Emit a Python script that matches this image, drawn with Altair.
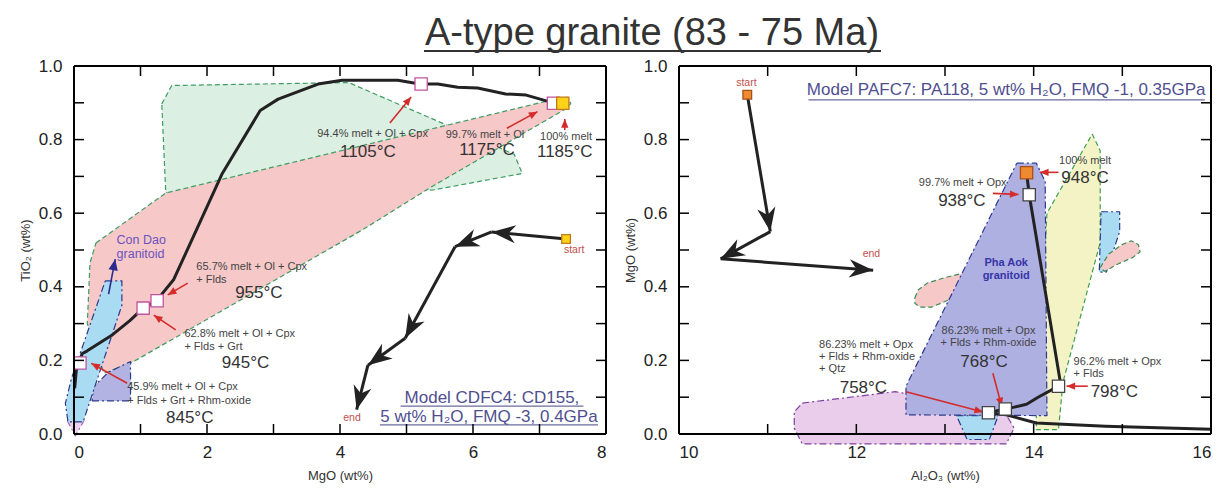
import math
import altair as alt
import pandas as pd

FONT = "Liberation Sans"

# ---------------- title ----------------
title_text = ["A-type granite (83 - 75 Ma)"]

# ---------------- LEFT PANEL: MgO (x) vs TiO2 (y) ----------------
lld_mgo = [0.01, 0.035, 0.09, 0.12, 0.20, 0.58, 0.84, 1.04, 1.25, 1.33, 1.50, 2.23, 2.80, 3.07,
           3.67, 4.03, 4.87, 5.20, 5.47, 5.77, 6.07, 6.49, 6.80, 7.22, 7.35]
lld_tio2 = [0.124, 0.174, 0.193, 0.218, 0.226, 0.270, 0.308, 0.342, 0.362, 0.382, 0.420, 0.708, 0.879, 0.910,
            0.951, 0.961, 0.961, 0.951, 0.951, 0.942, 0.940, 0.924, 0.921, 0.899, 0.899]

sqL_mgo = [0.09, 1.04, 1.25, 5.22, 7.21]
sqL_tio2 = [0.193, 0.342, 0.362, 0.951, 0.899]
meltL_mgo = [7.35]
meltL_tio2 = [0.899]
startL_mgo = [7.40]
startL_tio2 = [0.530]

arL_x0 = [7.40, 6.28, 5.73, 4.98, 4.42]
arL_y0 = [0.530, 0.549, 0.509, 0.260, 0.187]
arL_x1 = [6.28, 5.73, 4.98, 4.42, 4.25]
arL_y1 = [0.549, 0.509, 0.260, 0.187, 0.066]

rL_x0 = [4.75, 6.51, 7.38, 1.71, 1.53, 0.80]
rL_y0 = [0.845, 0.831, 0.826, 0.410, 0.283, 0.138]
rL_x1 = [5.07, 6.97, 7.38, 1.41, 1.20, 0.26]
rL_y1 = [0.916, 0.876, 0.856, 0.378, 0.323, 0.192]

cd_x0 = [0.52]
cd_y0 = [0.38]
cd_x1 = [0.62]
cd_y1 = [0.475]

green_mgo = [1.32, 1.47, 4.13, 6.62, 6.74, 5.40, 1.38]
green_tio2 = [0.897, 0.947, 0.955, 0.760, 0.708, 0.663, 0.655]
pink_mgo = [0.33, 1.38, 7.28, 7.42, 7.47, 7.40, 5.38, 4.33, 0.85, 0.45, 0.20, 0.24]
pink_tio2 = [0.519, 0.655, 0.912, 0.915, 0.898, 0.884, 0.672, 0.554, 0.192, 0.165, 0.300, 0.465]
bluel_mgo = [0.47, 0.72, 0.72, 0.137, -0.09, -0.13, -0.04]
bluel_tio2 = [0.416, 0.416, 0.350, 0.033, 0.033, 0.083, 0.150]
viol_mgo = [0.27, 0.85, 0.85, 0.52, 0.30]
viol_tio2 = [0.090, 0.090, 0.197, 0.168, 0.130]
mauvel_mgo = [-0.10, 0.15, 0.02]
mauvel_tio2 = [0.036, 0.036, -0.005]

L_small_c_text = ["94.4% melt + Ol + Cpx", "99.7% melt + Ol", "100% melt"]
L_small_c_x = [4.49, 6.18, 7.40]
L_small_c_y = [0.815, 0.812, 0.808]
L_small_l_text = ["65.7% melt + Ol + Cpx", "+ Flds", "62.8% melt + Ol + Cpx", "+ Flds + Grt",
                  "45.9% melt + Ol + Cpx", "+ Flds + Grt + Rhm-oxide"]
L_small_l_x = [1.84, 1.84, 1.66, 1.66, 0.80, 0.80]
L_small_l_y = [0.453, 0.418, 0.271, 0.237, 0.127, 0.090]
L_temp_text = ["1105°C", "1175°C", "1185°C", "955°C", "945°C", "845°C"]
L_temp_x = [4.42, 6.21, 7.38, 2.78, 2.58, 1.74]
L_temp_y = [0.767, 0.772, 0.767, 0.382, 0.192, 0.043]
L_cd_text = ["Con Dao", "granitoid"]
L_cd_x = [0.64, 0.64]
L_cd_y = [0.527, 0.489]
L_se_text = ["start", "end"]
L_se_x = [7.52, 4.18]
L_se_y = [0.500, 0.043]
L_model_text = ["Model CDFC4: CD155,", "5 wt% H₂O, FMQ -3, 0.4GPa"]
L_model_x = [6.285, 6.24]
L_model_y = [0.084, 0.033]
L_ul_x0 = [4.91, 4.60]
L_ul_x1 = [7.66, 7.88]
L_ul_y = [0.076, 0.025]

# ---------------- RIGHT PANEL: Al2O3 (x) vs MgO (y) ----------------
rl_al = [13.92, 13.95, 14.30, 14.28, 14.05, 13.92, 13.78, 13.68, 13.49, 13.69, 14.03, 14.81, 16.0]
rl_mgo = [0.710, 0.650, 0.142, 0.130, 0.100, 0.081, 0.073, 0.068, 0.058, 0.052, 0.030, 0.021, 0.013]

sqR_al = [13.95, 14.28, 13.68, 13.49]
sqR_mgo = [0.650, 0.130, 0.068, 0.058]
meltR_al = [13.92]
meltR_mgo = [0.710]
startR_al = [10.77]
startR_mgo = [0.922]

arR_x0 = [10.77, 11.03, 10.47]
arR_y0 = [0.922, 0.550, 0.476]
arR_x1 = [11.03, 10.47, 12.19]
arR_y1 = [0.550, 0.476, 0.445]

rR_x0 = [14.28, 13.54, 13.54, 12.56, 14.61]
rR_y0 = [0.711, 0.654, 0.165, 0.115, 0.130]
rR_x1 = [14.07, 13.83, 13.64, 13.43, 14.37]
rR_y1 = [0.711, 0.651, 0.075, 0.060, 0.130]

violr_al = [13.81, 14.03, 14.13, 14.15, 12.56, 12.56]
violr_mgo = [0.736, 0.736, 0.686, 0.050, 0.052, 0.130]
yell_al = [14.66, 14.75, 14.75, 14.33, 14.28, 14.03, 14.03, 14.15]
yell_mgo = [0.815, 0.770, 0.520, 0.140, 0.012, 0.012, 0.060, 0.600]
bluer1_al = [14.76, 14.97, 14.97, 14.82, 14.74]
bluer1_mgo = [0.604, 0.604, 0.550, 0.440, 0.440]
bluer2_al = [13.13, 13.60, 13.50, 13.25]
bluer2_mgo = [0.050, 0.050, -0.015, -0.015]
mauver_al = [11.39, 12.44, 12.80, 13.60, 13.69, 13.78, 13.69, 11.39, 11.30, 11.30]
mauver_mgo = [0.084, 0.115, 0.100, 0.060, 0.052, 0.016, -0.027, -0.027, 0.016, 0.060]
blob1_al = [12.66, 12.70, 12.80, 13.00, 13.25, 13.30, 13.10, 12.85, 12.72, 12.66]
blob1_mgo = [0.370, 0.392, 0.410, 0.425, 0.440, 0.400, 0.370, 0.345, 0.345, 0.355]
blob2_al = [14.75, 14.85, 15.00, 15.10, 15.18, 15.20, 15.12, 14.95, 14.80]
blob2_mgo = [0.452, 0.490, 0.515, 0.525, 0.515, 0.495, 0.480, 0.462, 0.442]

R_small_c_text = ["100% melt", "99.7% melt + Opx", "86.23% melt + Opx", "+ Flds + Rhm-oxide"]
R_small_c_x = [14.58, 13.20, 13.49, 13.49]
R_small_c_y = [0.743, 0.682, 0.280, 0.248]
R_small_l_text = ["86.23% melt + Opx", "+ Flds + Rhm-oxide", "+ Qtz", "96.2% melt + Opx", "+ Flds"]
R_small_l_x = [11.58, 11.58, 11.58, 14.45, 14.45]
R_small_l_y = [0.243, 0.210, 0.177, 0.196, 0.164]
R_temp_text = ["948°C", "938°C", "768°C", "758°C", "798°C"]
R_temp_x = [14.58, 13.19, 13.44, 12.08, 14.91]
R_temp_y = [0.697, 0.632, 0.196, 0.125, 0.115]
R_pa_text = ["Pha Aok", "granitoid"]
R_pa_x = [13.69, 13.69]
R_pa_y = [0.464, 0.429]
R_se_text = ["start", "end"]
R_se_x = [10.76, 12.17]
R_se_y = [0.953, 0.490]
R_model_text = ["Model PAFC7: PA118, 5 wt% H₂O, FMQ -1, 0.35GPa"]
R_model_x = [13.69]
R_model_y = [0.922]
R_ul_x0 = [11.46]
R_ul_x1 = [15.93]
R_ul_y = [0.908]

# ---------------- helpers ----------------
W, H = 532, 368
TICK = 10
DART = "M0,0L0.38,1L0,0.7L-0.38,1Z"
TRI = "M0,0L0.42,1L-0.42,1Z"
BLACK = "#222222"
RED = "#d42b2b"
DASH = [5, 3]
DASHDOT = [7, 3, 2, 3]


def axis(values, title, fmt, lp, tp):
    return alt.Axis(values=values, title=title, format=fmt, ticks=False, domain=False, grid=False,
                    labelFont=FONT, labelFontSize=17, labelColor="#222", labelPadding=lp,
                    titleFont=FONT, titleFontSize=13, titleFontWeight="normal", titleColor="#333",
                    titlePadding=tp)


class Panel:
    def __init__(self, xdom, xlabels, xtitle, ytitle):
        self.sx = alt.Scale(domain=xdom, nice=False, zero=False)
        self.sy = alt.Scale(domain=[0, 1], nice=False, zero=False)
        self.ax = axis(xlabels, xtitle, "d", 10, 9)
        self.ay = axis([0.0, 0.2, 0.4, 0.6, 0.8, 1.0], ytitle, ".1f", 12, 6)
        self.kx = W / (xdom[1] - xdom[0])
        self.ky = H / 1.0

    def x(self, f="x"):
        return alt.X(f + ":Q", scale=self.sx, axis=self.ax)

    def y(self, f="y"):
        return alt.Y(f + ":Q", scale=self.sy, axis=self.ay)


def poly(P, xs, ys, fill, stroke, dash):
    df = pd.DataFrame({"x": list(xs) + [xs[0]], "y": list(ys) + [ys[0]],
                       "i": list(range(len(xs) + 1))})
    return alt.Chart(df).mark_line(fill=fill, stroke=stroke, strokeDash=dash, strokeWidth=1.2,
                                   strokeJoin="round").encode(x=P.x(), y=P.y(), order="i:Q")


def path_line(P, xs, ys, color, width):
    df = pd.DataFrame({"x": xs, "y": ys, "i": list(range(len(xs)))})
    return alt.Chart(df).mark_line(color=color, strokeWidth=width, strokeJoin="round").encode(
        x=P.x(), y=P.y(), order="i:Q")


def arrows(P, x0, y0, x1, y1, color, width, shape, size):
    ang = [math.degrees(math.atan2((b - a) * P.kx, (d - c) * P.ky)) % 360
           for a, b, c, d in zip(x0, x1, y0, y1)]
    df = pd.DataFrame({"x": x0, "y": y0, "x2": x1, "y2": y1, "ang": ang})
    seg = alt.Chart(df).mark_rule(color=color, strokeWidth=width).encode(
        x=P.x(), y=P.y(), x2="x2:Q", y2="y2:Q")
    head = alt.Chart(df).mark_point(shape=shape, filled=True, fill=color, strokeWidth=0,
                                    size=size, opacity=1).encode(
        x=P.x("x2"), y=P.y("y2"), angle=alt.Angle("ang:Q", scale=None))
    return [seg, head]


def squares(P, xs, ys, fill, stroke, size, sw=1.3):
    df = pd.DataFrame({"x": xs, "y": ys})
    return alt.Chart(df).mark_point(shape="square", filled=True, fill=fill, stroke=stroke,
                                    strokeWidth=sw, size=size, opacity=1).encode(x=P.x(), y=P.y())


def texts(P, txt, xs, ys, size, color, align="center", weight="normal"):
    df = pd.DataFrame({"t": txt, "x": xs, "y": ys})
    return alt.Chart(df).mark_text(font=FONT, fontSize=size, color=color, align=align,
                                   baseline="middle", fontWeight=weight).encode(
        x=P.x(), y=P.y(), text="t:N")


def model_text(P, txt, xs, ys, ux0, ux1, uy):
    df = pd.DataFrame({"t": txt, "x": xs, "y": ys})
    t = alt.Chart(df).mark_text(font=FONT, fontSize=17, color="#4f4f8f", align="center",
                                baseline="alphabetic").encode(x=P.x(), y=P.y(), text="t:N")
    du = pd.DataFrame({"x": ux0, "x2": ux1, "y": uy})
    u = alt.Chart(du).mark_rule(color="#6a6aa0", strokeWidth=1.3).encode(
        x=P.x(), x2="x2:Q", y=P.y())
    return [t, u]


def frame_ticks(P, xt, yt):
    dx = pd.DataFrame({"x": xt})
    dy = pd.DataFrame({"y": yt})
    one = pd.DataFrame({"a": [0]})
    return [
        alt.Chart(dx).mark_rule(color="black", strokeWidth=1.5).encode(
            x=P.x(), y=alt.value(H), y2=alt.value(H - TICK)),
        alt.Chart(dx).mark_rule(color="black", strokeWidth=1.5).encode(
            x=P.x(), y=alt.value(0), y2=alt.value(TICK)),
        alt.Chart(dy).mark_rule(color="black", strokeWidth=1.5).encode(
            y=P.y(), x=alt.value(0), x2=alt.value(TICK)),
        alt.Chart(dy).mark_rule(color="black", strokeWidth=1.5).encode(
            y=P.y(), x=alt.value(W), x2=alt.value(W - TICK)),
        alt.Chart(one).mark_rule(color="black", strokeWidth=2).encode(
            x=alt.value(0), x2=alt.value(W), y=alt.value(0)),
        alt.Chart(one).mark_rule(color="black", strokeWidth=2).encode(
            x=alt.value(0), x2=alt.value(W), y=alt.value(H)),
        alt.Chart(one).mark_rule(color="black", strokeWidth=2).encode(
            y=alt.value(0), y2=alt.value(H), x=alt.value(0)),
        alt.Chart(one).mark_rule(color="black", strokeWidth=2).encode(
            y=alt.value(0), y2=alt.value(H), x=alt.value(W)),
    ]


ytick_vals = [i / 10 for i in range(11)]

# ---------------- left panel ----------------
PL = Panel([0, 8], [0, 2, 4, 6, 8], "MgO (wt%)", "TiO₂ (wt%)")
left_layers = [
    poly(PL, green_mgo, green_tio2, "#dcefe3", "#3e9c62", DASH),
    poly(PL, pink_mgo, pink_tio2, "#f6c8c8", "#3e9c62", DASH),
    poly(PL, mauvel_mgo, mauvel_tio2, "#ecd2ec", "#9a6ab0", DASHDOT),
    poly(PL, viol_mgo, viol_tio2, "#b3b3e3", "#2d3a8c", DASHDOT),
    poly(PL, bluel_mgo, bluel_tio2, "#a9dcf3", "#2d3a8c", DASHDOT),
]
left_layers += arrows(PL, cd_x0, cd_y0, cd_x1, cd_y1, "#2b2b8f", 1.6, TRI, 500)
left_layers.append(path_line(PL, lld_mgo, lld_tio2, BLACK, 3))
left_layers += arrows(PL, arL_x0, arL_y0, arL_x1, arL_y1, BLACK, 3, DART, 2300)
left_layers += arrows(PL, rL_x0, rL_y0, rL_x1, rL_y1, RED, 1.6, TRI, 300)
left_layers += [
    squares(PL, sqL_mgo, sqL_tio2, "white", "#c0549c", 150),
    squares(PL, meltL_mgo, meltL_tio2, "#ffd21a", "#c07a1a", 150),
    squares(PL, startL_mgo, startL_tio2, "#ffd21a", "#c07a1a", 75),
    texts(PL, L_small_c_text, L_small_c_x, L_small_c_y, 11, "#444"),
    texts(PL, L_small_l_text, L_small_l_x, L_small_l_y, 11, "#444", align="left"),
    texts(PL, L_temp_text, L_temp_x, L_temp_y, 17, "#333"),
    texts(PL, L_cd_text, L_cd_x, L_cd_y, 12.5, "#6a52bf", align="left"),
    texts(PL, L_se_text, L_se_x, L_se_y, 10.5, "#c0504d"),
]
left_layers += model_text(PL, L_model_text, L_model_x, L_model_y, L_ul_x0, L_ul_x1, L_ul_y)
left_layers += frame_ticks(PL, list(range(9)), ytick_vals)
left = alt.layer(*left_layers).properties(width=W, height=H)

# ---------------- right panel ----------------
PR = Panel([10, 16], [10, 12, 14, 16], "Al₂O₃ (wt%)", "MgO (wt%)")
right_layers = [
    poly(PR, mauver_al, mauver_mgo, "#e9cdea", "#7d3f9e", DASHDOT),
    poly(PR, bluer2_al, bluer2_mgo, "#a9dcf3", "#2d3a8c", DASHDOT),
    poly(PR, yell_al, yell_mgo, "#f3f3c6", "#3ea04e", DASH),
    poly(PR, bluer1_al, bluer1_mgo, "#a9dcf3", "#2d3a8c", DASHDOT),
    poly(PR, blob1_al, blob1_mgo, "#f6c8c8", "#3e8c52", DASH),
    poly(PR, blob2_al, blob2_mgo, "#f6c8c8", "#3e8c52", DASH),
    poly(PR, violr_al, violr_mgo, "#aeb0e2", "#2d3a8c", DASHDOT),
]
right_layers.append(path_line(PR, rl_al, rl_mgo, BLACK, 3))
right_layers += arrows(PR, arR_x0, arR_y0, arR_x1, arR_y1, BLACK, 3, DART, 2300)
right_layers += arrows(PR, rR_x0, rR_y0, rR_x1, rR_y1, RED, 1.6, TRI, 300)
right_layers += [
    squares(PR, sqR_al, sqR_mgo, "white", "#444", 150),
    squares(PR, meltR_al, meltR_mgo, "#f08a30", "#a8501a", 150),
    squares(PR, startR_al, startR_mgo, "#f08a30", "#a8501a", 75),
    texts(PR, R_small_c_text, R_small_c_x, R_small_c_y, 11, "#444"),
    texts(PR, R_small_l_text, R_small_l_x, R_small_l_y, 11, "#444", align="left"),
    texts(PR, R_temp_text, R_temp_x, R_temp_y, 17, "#333"),
    texts(PR, R_pa_text, R_pa_x, R_pa_y, 11, "#3535a8", weight="bold"),
    texts(PR, R_se_text, R_se_x, R_se_y, 10.5, "#c0504d"),
]
right_layers += model_text(PR, R_model_text, R_model_x, R_model_y, R_ul_x0, R_ul_x1, R_ul_y)
right_layers += frame_ticks(PR, list(range(10, 17)), ytick_vals)
right = alt.layer(*right_layers).properties(width=W, height=H)

# ---------------- header ----------------
tdf = pd.DataFrame({"t": title_text})
header = alt.layer(
    alt.Chart(tdf).mark_text(font=FONT, fontSize=38, color="#333", align="center",
                             baseline="alphabetic").encode(text="t:N", x=alt.value(578), y=alt.value(29)),
    alt.Chart(tdf).mark_rule(color="#333", strokeWidth=2).encode(
        x=alt.value(350), x2=alt.value(807), y=alt.value(35)),
).properties(width=1130, height=41)

body = alt.hconcat(left, right, spacing=73, bounds="flush")
chart = alt.vconcat(header, body, spacing=9, bounds="flush").properties(
    padding={"left": 10, "top": 6, "right": 2, "bottom": 0},
    background="white",
).configure_view(stroke="transparent")

chart.save("out.html", embed_options={"renderer": "svg", "actions": False})
